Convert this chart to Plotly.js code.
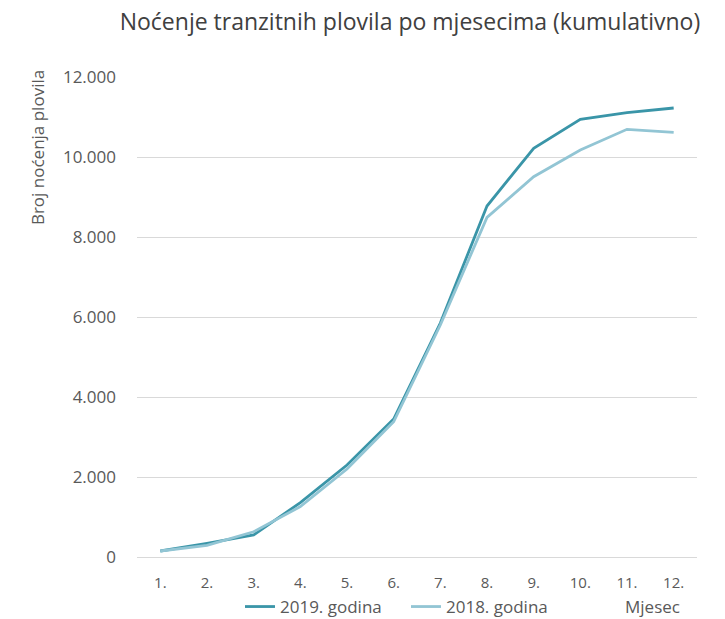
<!DOCTYPE html>
<html>
<head>
<meta charset="utf-8">
<script src="https://cdn.plot.ly/plotly-3.0.1.min.js"></script>
<style>html,body{margin:0;padding:0;background:#fff;}#chart{width:725px;height:619px;}</style>
</head>
<body>
<div id="chart"></div>
<script>
const months = ["1.", "2.", "3.", "4.", "5.", "6.", "7.", "8.", "9.", "10.", "11.", "12."];
const values2019 = [150, 340, 550, 1360, 2300, 3450, 5850, 8775, 10217, 10942, 11108, 11225];
const values2018 = [150, 290, 630, 1260, 2200, 3380, 5800, 8492, 9508, 10175, 10692, 10617];
const seriesNames = ["2019. godina", "2018. godina"];
const yTicks = [0, 2000, 4000, 6000, 8000, 10000, 12000];

const font = "Open Sans, Noto Sans, sans-serif";
const grey = "#595959";

const traces = [
  {x: months, y: values2019, name: seriesNames[0], type: "scatter", mode: "lines",
   line: {color: "#3A95A8", width: 2.8}},
  {x: months, y: values2018, name: seriesNames[1], type: "scatter", mode: "lines",
   line: {color: "#92C5D4", width: 2.8}}
];

const layout = {
  width: 725, height: 619,
  margin: {l: 137, r: 28, t: 77, b: 62},
  paper_bgcolor: "#fff", plot_bgcolor: "#fff",
  separators: ",.",
  font: {family: font, color: grey, size: 17},
  title: {text: "Noćenje tranzitnih plovila po mjesecima (kumulativno)",
          font: {family: font, size: 23, color: "#404040"},
          x: 0.5655, xanchor: "center", y: 0.9645, yanchor: "middle"},
  xaxis: {type: "category", range: [-0.5, 11.5], showgrid: false, zeroline: false,
          showline: true, linecolor: "#d9d9d9", linewidth: 1, ticks: "",
          tickfont: {family: font, size: 15, color: grey}, ticklabelstandoff: 12},
  yaxis: {range: [0, 12000], tickvals: yTicks, tickformat: ",d",
          showgrid: true, gridcolor: "#d9d9d9", gridwidth: 1, zeroline: false,
          showline: false, ticks: "", ticklabelstandoff: 20,
          tickfont: {family: font, size: 17, color: grey}},
  showlegend: true,
  legend: {orientation: "h", xref: "container", yref: "container",
           x: 0.331, xanchor: "left", y: 0.0194, yanchor: "middle",
           font: {family: font, size: 17, color: grey}, itemwidth: 30,
           entrywidth: 121, entrywidthmode: "pixels",
           traceorder: "normal", tracegroupgap: 0},
  annotations: [
    {text: "Broj noćenja plovila", xref: "paper", yref: "paper", x: -0.1786, y: 0.854,
     xanchor: "center", yanchor: "middle", textangle: -90, showarrow: false,
     font: {family: font, size: 17, color: grey}},
    {text: "Mjesec", xref: "paper", yref: "paper", x: 0.868, y: -0.104,
     xanchor: "left", yanchor: "middle", showarrow: false,
     font: {family: font, size: 17, color: grey}}
  ]
};

Plotly.newPlot("chart", traces, layout, {displayModeBar: false, staticPlot: true});
</script>
</body>
</html>
